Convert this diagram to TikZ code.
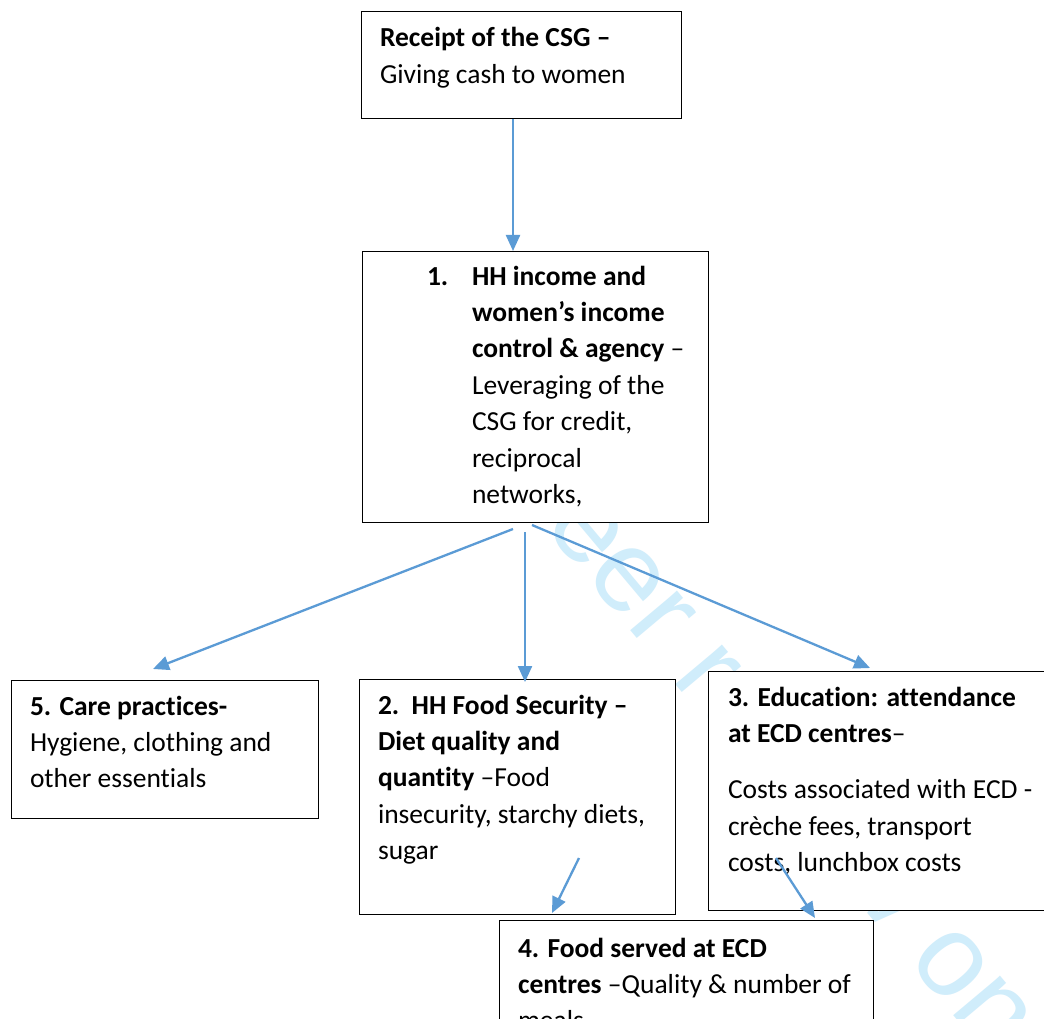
\documentclass[tikz,border=0pt]{standalone}
\usepackage{fontspec}
\setmainfont{Carlito}[Ligatures={NoCommon,NoRequired,NoContextual},RawFeature={-liga;-clig;-calt;-dlig;-rlig}]
\newfontfamily\wmfont{Liberation Sans}
\usetikzlibrary{arrows.meta}
\definecolor{linkblue}{RGB}{91,155,213}
\definecolor{wmcyan}{RGB}{208,237,251}
\newcommand\bodyfont{\fontsize{27.5}{36.4}\selectfont}
\newcommand\boxtext[2]{\parbox[t]{#1}{\bodyfont\raggedright #2}}
% keeps t followed by i or t as separate letters
\newcommand\nl{\kern0pt{}}
\begin{document}
\begin{tikzpicture}[x=1pt,y=-1pt,
  box/.style={draw=black, line width=1.4pt, fill=white, anchor=north west, inner sep=0pt},
  txt/.style={anchor=base west, inner sep=0pt, outer sep=0pt},
  link/.style={draw=linkblue, line width=2.3pt, -{Triangle[length=16pt,width=14pt]}},
]
\useasboundingbox (0,0) rectangle (1044,1019);
\clip (0,0) rectangle (1044,1019);
\fill[white] (0,0) rectangle (1044,1019);

% review watermark behind everything
\node[anchor=base west, inner sep=0pt, rotate=-50, text=wmcyan]
  (wm) at (368,318) {\wmfont\fontsize{116}{120}\selectfont For peer review only};

% boxes
\node[box, minimum width=320pt, minimum height=107pt] (n0) at (361,11) {};
\node[box, minimum width=346pt, minimum height=271pt] (n1) at (362,251) {};
\node[box, minimum width=307pt, minimum height=138pt] (n5) at (11,680) {};
\node[box, minimum width=316pt, minimum height=235pt] (n2) at (359,679) {};
\node[box, minimum width=339pt, minimum height=239pt] (n3) at (708,671) {};
\node[box, minimum width=374pt, minimum height=140pt] (n4) at (499,920) {};

% box texts
\node[txt] (t0) at (380,47) {\boxtext{300pt}{\textbf{Receipt of the CSG –}\\Giving cash to women}};
\node[txt] (t1n) at (427,285) {\boxtext{40pt}{\textbf{1.}}};
\node[txt] (t1) at (472,285) {\boxtext{240pt}{\textbf{HH income and}\\\textbf{women’s income}\\\textbf{control \& agency} –\\Leveraging of the\\CSG for credit,\\reciprocal\\networks,}};
\node[txt] (t5) at (30,715) {\boxtext{290pt}{\textbf{5. Care pract\nl ices-}\\Hygiene, clothing and\\other essent\nl ials}};
\node[txt] (t2) at (378,714) {\boxtext{300pt}{\textbf{2.\ \ HH Food Security –}\\\textbf{Diet quality and}\\\textbf{quant\nl ity} –Food\\insecurity, starchy diets,\\sugar}};
\node[txt] (t3) at (728,706) {\boxtext{320pt}{\textbf{3. Educat\nl ion: at\nl t\nl endance}\\\textbf{at ECD centres}–\\[19.9pt]Costs associated with ECD -\\crèche fees, transport\\costs, lunchbox costs}};
\node[txt] (t4) at (518,957) {\boxtext{360pt}{\textbf{4. Food served at ECD}\\\textbf{centres} –Quality \& number of\\meals}};

% connector ends
\coordinate (a0s) at (513,119);
\coordinate (a0e) at (513,251);
\coordinate (a5s) at (513,529);
\coordinate (a5e) at (153,669);
\coordinate (a2s) at (525,532);
\coordinate (a2e) at (525,682);
\coordinate (a3s) at (532,525);
\coordinate (a3e) at (870,668);
\coordinate (a24s) at (579,858);
\coordinate (a24e) at (552,913);
\coordinate (a34s) at (776,858);
\coordinate (a34e) at (815,918);

% connectors
\draw[link] (a0s) -- (a0e);
\draw[link] (a5s) -- (a5e);
\draw[link] (a2s) -- (a2e);
\draw[link] (a3s) -- (a3e);
\draw[link] (a24s) -- (a24e);
\draw[link] (a34s) -- (a34e);
\end{tikzpicture}
\end{document}
